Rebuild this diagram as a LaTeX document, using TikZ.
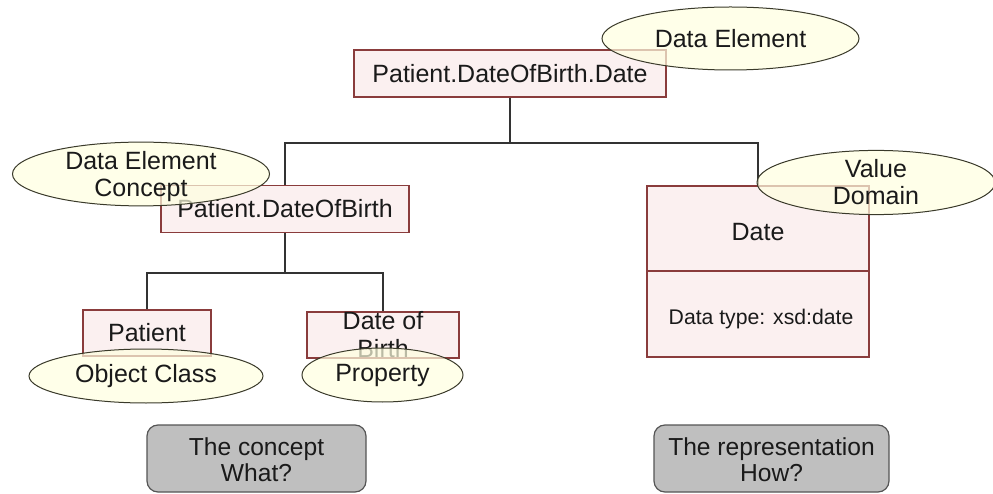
\documentclass[tikz,border=0pt]{standalone}
\usepackage{fontspec}
\setmainfont{Liberation Sans}
\usetikzlibrary{shapes.geometric}
\definecolor{boxfill}{HTML}{FBF0F0}
\definecolor{boxline}{HTML}{8A3C3C}
\definecolor{ellfill}{HTML}{FFFFE0}
\definecolor{ellline}{HTML}{3A3A2A}
\definecolor{greyfill}{HTML}{BFBFBF}
\definecolor{greyline}{HTML}{555555}
\definecolor{txt}{HTML}{1A1A1A}
\tikzset{
  big/.style={font=\fontsize{25}{27}\selectfont, text=txt, inner sep=0pt, align=center},
  ebox/.style={big, draw=boxline, line width=1.1pt, fill=boxfill},
  ell/.style={big, ellipse, draw=ellline, line width=1pt, fill=ellfill, fill opacity=0.7, text opacity=1},
  gbox/.style={draw=greyline, line width=1.2pt, fill=greyfill, rounded corners=11pt, inner sep=0pt},
  conn/.style={draw=black!80, line width=1.4pt}
}
\begin{document}
\begin{tikzpicture}[x=1pt,y=-1pt]
\useasboundingbox (0,0) rectangle (993,494);
% boxes
\node[ebox, minimum width=312pt, minimum height=47pt] (top) at (510,73.5) {Patient.DateOfBirth.Date};
\node[ebox, minimum width=248pt, minimum height=47pt] (dob) at (285,209) {Patient.DateOfBirth};
\node[ebox, minimum width=128pt, minimum height=46pt] (pat) at (147,333) {Patient};
\node[ebox, minimum width=152pt, minimum height=46pt] (dobp) at (383,335) {};
\node[big, font=\fontsize{25}{28}\selectfont] (dobptxt) at (383,335) {Date of\\Birth};
\node[ebox, minimum width=222pt, minimum height=85pt] (datetop) at (758,228.5) {};
\node[ebox, minimum width=222pt, minimum height=86pt] (datebot) at (758,314) {};
\node[big, anchor=base] (datetxt) at (758,241) {Date};
\node[big, anchor=base, font=\fontsize{21.2}{24}\selectfont] (dtypetxt) at (761,324) {Data type: xsd:date};
% connectors
\coordinate (j1) at (510,143);
\coordinate (j2) at (285,273);
\draw[conn] (top.south) -- (j1);
\draw[conn] (dob.north) |- (j1) -| (datetop.north);
\draw[conn] (dob.south) -- (j2);
\draw[conn] (pat.north) |- (j2) -| (dobp.north);
% ellipses
\node[ell, minimum width=257pt, minimum height=63pt] (de) at (730.5,38.5) {Data Element};
\node[ell, minimum width=257pt, minimum height=62pt, text depth=0pt] (dec) at (141,174) {Data Element\\Concept};
\node[ell, minimum width=238pt, minimum height=55pt] (vd) at (876,182.5) {Value\\Domain};
\node[ell, minimum width=234pt, minimum height=54pt] (oc) at (146,376) {Object Class};
\node[ell, minimum width=161pt, minimum height=54pt] (prop) at (382.5,375) {Property};
% grey boxes
\node[gbox, minimum width=219pt, minimum height=67pt] (what) at (256.5,458.5) {};
\node[big, font=\fontsize{24.6}{26}\selectfont] (whattxt) at (256.5,460) {The concept\\What?};
\node[gbox, minimum width=235pt, minimum height=67pt] (how) at (771.5,458.5) {};
\node[big, font=\fontsize{24.6}{26}\selectfont] (howtxt) at (771.5,460) {The representation\\How?};
\end{tikzpicture}
\end{document}
